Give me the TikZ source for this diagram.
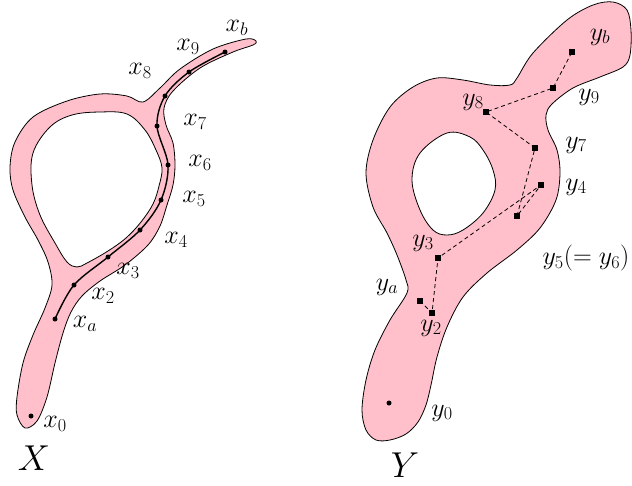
\RequirePackage{fix-cm}
\documentclass[tikz,border=0pt]{standalone}
\definecolor{blobpink}{RGB}{255,192,203}
\begin{document}
\begin{tikzpicture}[x=1pt,y=-1pt,font=\fontsize{26}{30}\selectfont]
\tikzset{
  blob/.style={fill=blobpink, draw=black, line width=0.8pt, even odd rule},
  dotmark/.style={circle, fill=black, inner sep=0pt, minimum size=5pt},
  sqmark/.style={rectangle, fill=black, inner sep=0pt, minimum size=6.5pt},
  lab/.style={inner sep=0pt},
  big/.style={inner sep=0pt, font=\fontsize{36}{40}\selectfont},
  xpath/.style={line width=1.4pt},
  ypath/.style={line width=0.8pt, dash pattern=on 4pt off 3pt}
}
\useasboundingbox (0,0) rectangle (632,485);

% ---------- X ----------
\path[blob] plot[smooth cycle, tension=0.55] coordinates {
 (246,39) (213,49) (180,69) (160,88) (143,102) (127,96) (100,94) (67,101)
 (33,117) (15,142) (10,167) (13,190) (25,217) (38,240) (48,262) (52,285)
 (45,308) (33,335) (23,363) (17,397) (17,415) (25,428) (37,421) (47,397)
 (55,363) (63,333) (71,312) (82,296) (100,281) (125,265) (148,245)
 (160,226) (167,205) (173,185) (175,165) (173,143) (166,125) (164,108) (173,91)
 (200,68) (233,52) (253,45) (256,41)}
 plot[smooth cycle, tension=0.6] coordinates {
 (100,112) (127,114) (145,130) (156,150) (162,168) (159,186) (153,204)
 (141,222) (126,238) (108,251) (87,263) (77,267) (67,262) (55,243) (40,215)
 (32,185) (33,153) (50,127) (72,115)};

\coordinate (xa) at (55,319);
\coordinate (x2) at (74,285);
\coordinate (x3) at (108,257);
\coordinate (x4) at (140,230);
\coordinate (x5) at (161,200);
\coordinate (x6) at (168,165);
\coordinate (x7) at (157,126);
\coordinate (x8) at (165,96);
\coordinate (x9) at (189,72);
\coordinate (xb) at (225,52);
\coordinate (x0) at (31,416);

\draw[xpath] plot[smooth, tension=0.55] coordinates {(xa) (x2) (x3) (x4) (x5) (x6) (x7) (x8) (x9) (xb)};

\foreach \p in {xa,x2,x3,x4,x5,x6,x7,x8,x9,xb,x0}
  \node[dotmark] (d\p) at (\p) {};

\node[lab] (lxb) at (237,28) {$x_b$};
\node[lab] (lx9) at (188,47) {$x_9$};
\node[lab] (lx8) at (140,71) {$x_8$};
\node[lab] (lx7) at (195,122) {$x_7$};
\node[lab] (lx6) at (200,163) {$x_6$};
\node[lab] (lx5) at (194,199) {$x_5$};
\node[lab] (lx4) at (176,240) {$x_4$};
\node[lab] (lx3) at (128,271) {$x_3$};
\node[lab] (lx2) at (103,296) {$x_2$};
\node[lab] (lxa) at (85,324) {$x_a$};
\node[lab] (lx0) at (55,424) {$x_0$};
\node[big] (lX) at (34,458) {$X$};

% ---------- Y ----------
\path[blob] plot[smooth cycle, tension=0.55] coordinates {
 (510,85) (490,85) (463,80) (437,78) (413,87) (390,107) (373,140) (366,173)
 (373,207) (387,233) (397,255) (406,280) (407,293) (390,320) (375,350)
 (366,380) (362,410) (366,430) (376,440) (390,440) (406,434) (418,422)
 (426,405) (431,385) (437,357) (447,327) (463,297) (487,273) (517,250)
 (540,228) (556,200) (560,173) (557,150) (548,130) (546,115) (552,104)
 (573,88) (600,77) (623,67) (630,55) (631,30) (627,10) (613,2) (593,5)
 (567,20) (533,53) (517,78)}
 plot[smooth cycle, tension=0.6] coordinates {
 (447,133) (470,137) (483,150) (493,170) (495,190) (483,213) (463,230)
 (447,235) (433,230) (420,210) (412,180) (420,153)};

\coordinate (ya) at (420,301);
\coordinate (y2) at (432,313);
\coordinate (y3) at (438,258);
\coordinate (y4) at (541,185);
\coordinate (y5) at (517,216);
\coordinate (y7) at (535,148);
\coordinate (y8) at (486,112);
\coordinate (y9) at (553,88);
\coordinate (yb) at (572,52);
\coordinate (y0) at (389,403);

\draw[ypath] (ya) -- (y2) -- (y3) -- (y4) -- (y5) -- (y7) -- (y8) -- (y9) -- (yb);

\foreach \p in {ya,y2,y3,y4,y5,y7,y8,y9,yb}
  \node[sqmark] (s\p) at (\p) {};
\node[dotmark] (sy0) at (y0) {};

\node[lab] (lyb) at (600,37) {$y_b$};
\node[lab] (ly9) at (589,97) {$y_9$};
\node[lab] (ly8) at (473,102) {$y_8$};
\node[lab] (ly7) at (576,145) {$y_7$};
\node[lab] (ly4) at (576,187) {$y_4$};
\node[lab] (ly3) at (423,243) {$y_3$};
\node[lab] (ly5) at (586,258) {$y_5(=y_6)$};
\node[lab] (lya) at (387,287) {$y_a$};
\node[lab] (ly2) at (431,328) {$y_2$};
\node[lab] (ly0) at (442,413) {$y_0$};
\node[big] (lY) at (405,465) {$Y$};
\end{tikzpicture}
\end{document}
